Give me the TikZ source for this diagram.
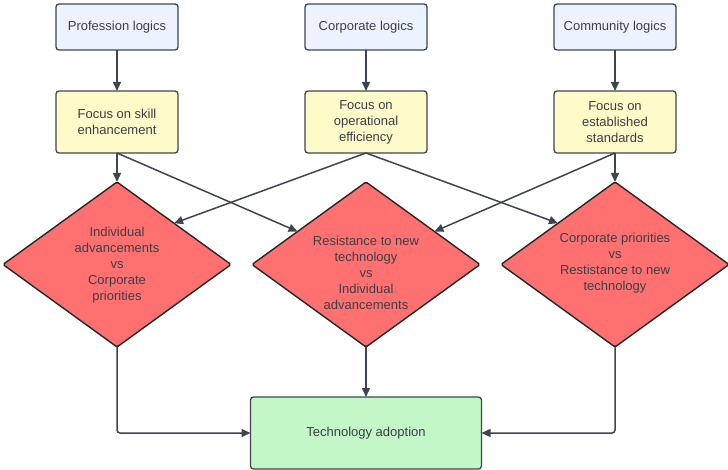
\documentclass[tikz,border=0pt]{standalone}
\usepackage{fontspec}
\setmainfont{Liberation Sans}
\usetikzlibrary{shapes.geometric,arrows.meta,calc}
\definecolor{linec}{HTML}{3E4550}
\definecolor{txtc}{HTML}{3A3F47}
\definecolor{bluef}{HTML}{EDF3FE}
\definecolor{yellf}{HTML}{FEFBC8}
\definecolor{redf}{HTML}{FF7171}
\definecolor{greenf}{HTML}{C3F7C8}
\tikzset{
  basebox/.style={draw=linec, line width=1.3pt, rounded corners=3pt, align=center,
    text=txtc, font=\fontsize{13}{16}\selectfont, inner sep=0pt, outer sep=0pt},
  logicbox/.style={basebox, fill=bluef, minimum width=122pt, minimum height=46pt},
  focusbox/.style={basebox, fill=yellf, minimum width=122pt, minimum height=62pt},
  adoptbox/.style={basebox, fill=greenf, minimum width=231pt, minimum height=72pt},
  dia/.style={diamond, draw=black!85, line width=1.4pt, fill=redf, minimum width=228pt,
    minimum height=165pt, inner sep=0pt, outer sep=0pt, rounded corners=1.5pt},
  diatext/.style={align=center, text=txtc, font=\fontsize{13}{16}\selectfont, inner sep=0pt},
  arr/.style={draw=linec, line width=1.5pt, -{Triangle[length=9pt,width=8pt]}}
}
\begin{document}
\begin{tikzpicture}[x=1pt,y=-1pt]
\useasboundingbox (0,0) rectangle (728,470);
% top row
\node[logicbox] (p) at (117,27) {Profession logics};
\node[logicbox] (c) at (366,27) {Corporate logics};
\node[logicbox] (m) at (615,27) {Community logics};
% focus row
\node[focusbox] (fp) at (117,122) {Focus on skill\\enhancement};
\node[focusbox] (fc) at (366,122) {Focus on\\operational\\efficiency};
\node[focusbox] (fm) at (615,122) {Focus on\\established\\standards};
% diamonds
\node[dia] (d1) at (117,264.5) {};
\node[dia] (d2) at (366,264.5) {};
\node[dia] (d3) at (615,264.5) {};
\node[diatext] (t1) at (117,265) {Individual\\advancements\\vs\\Corporate\\priorities};
\node[diatext] (t2) at (366,273) {Resistance to new\\technology\\vs\\Individual\\advancements};
\node[diatext] (t3) at (615,263) {Corporate priorities\\vs\\Restistance to new\\technology};
% bottom
\node[adoptbox] (a) at (366,433) {Technology adoption};
\coordinate (k1) at (d1.south |- a.west);
\coordinate (k3) at (d3.south |- a.east);
% arrows
\draw[arr] (p) -- (fp);
\draw[arr] (c) -- (fc);
\draw[arr] (m) -- (fm);
\draw[arr] (fp.south) -- (d1.north);
\draw[arr] (fm.south) -- (d3.north);
\draw[arr] (fp.south) -- ($(d2.west)!0.4!(d2.north)$);
\draw[arr] (fc.south) -- (d1.north east);
\draw[arr] (fc.south) -- (d3.north west);
\draw[arr] (fm.south) -- ($(d2.north)!0.6!(d2.east)$);
\draw[arr, rounded corners=3pt] (d1.south) -- (k1) -- (a.west);
\draw[arr] (d2.south) -- (a.north);
\draw[arr, rounded corners=3pt] (d3.south) -- (k3) -- (a.east);
\end{tikzpicture}
\end{document}
